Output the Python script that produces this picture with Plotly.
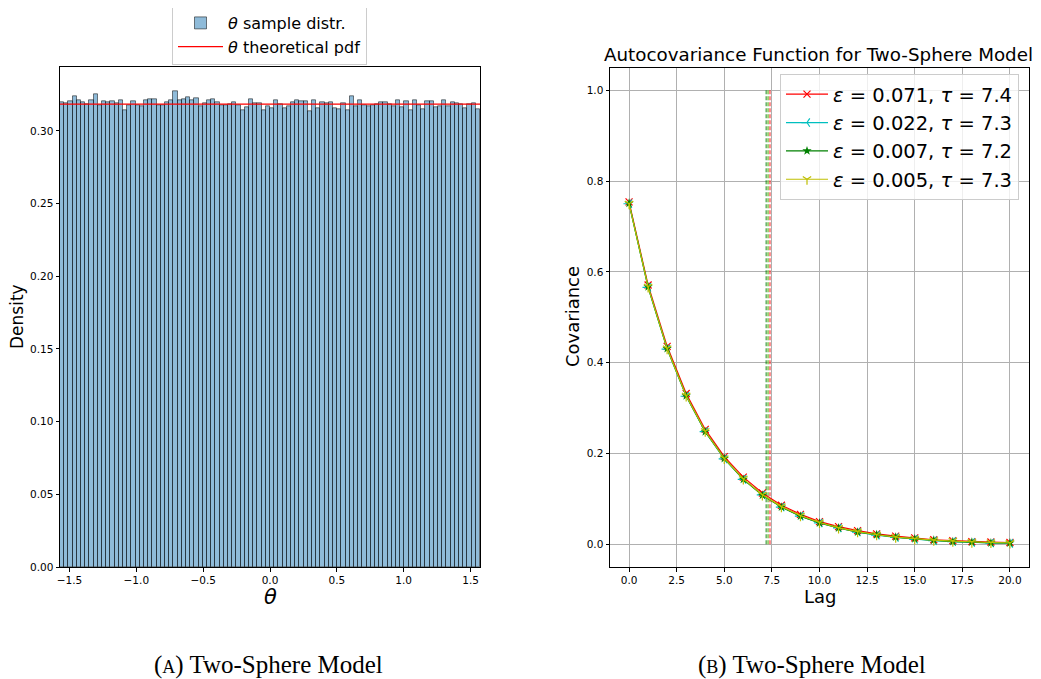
import numpy as np
import plotly.graph_objects as go

# ---------------- data ----------------
# left panel: histogram of theta (100 bins on [-pi/2, pi/2]), density values
theta_min = -np.pi / 2
theta_max = np.pi / 2
n_bins = 100
hist_density = [
    0.3196, 0.3189, 0.3200, 0.3235, 0.3212, 0.3194, 0.3184, 0.3212, 0.3251, 0.3173,
    0.3200, 0.3194, 0.3203, 0.3191, 0.3212, 0.3139, 0.3173, 0.3203, 0.3178, 0.3166,
    0.3210, 0.3216, 0.3219, 0.3178, 0.3178, 0.3194, 0.3207, 0.3271, 0.3210, 0.3216,
    0.3228, 0.3210, 0.3223, 0.3166, 0.3189, 0.3207, 0.3219, 0.3196, 0.3178, 0.3178,
    0.3180, 0.3198, 0.3175, 0.3143, 0.3162, 0.3216, 0.3189, 0.3187, 0.3139, 0.3171,
    0.3152, 0.3212, 0.3182, 0.3157, 0.3171, 0.3194, 0.3207, 0.3205, 0.3203, 0.3132,
    0.3212, 0.3155, 0.3194, 0.3189, 0.3194, 0.3152, 0.3148, 0.3187, 0.3143, 0.3239,
    0.3171, 0.3210, 0.3175, 0.3171, 0.3178, 0.3180, 0.3194, 0.3194, 0.3184, 0.3168,
    0.3212, 0.3159, 0.3203, 0.3143, 0.3212, 0.3178, 0.3148, 0.3200, 0.3205, 0.3164,
    0.3168, 0.3207, 0.3166, 0.3196, 0.3189, 0.3180, 0.3155, 0.3182, 0.3189, 0.3150,
]
pdf_x = [theta_min, theta_max]
pdf_y = [1 / np.pi, 1 / np.pi]

left_xtick_vals = [-1.5, -1.0, -0.5, 0.0, 0.5, 1.0, 1.5]
left_xtick_text = ["\u22121.5", "\u22121.0", "\u22120.5", "0.0", "0.5", "1.0", "1.5"]
left_ytick_vals = [0.00, 0.05, 0.10, 0.15, 0.20, 0.25, 0.30]

# right panel: autocovariance
lags = list(range(21))
acf_eps071 = [0.754, 0.571, 0.436, 0.332, 0.253, 0.193, 0.148, 0.113, 0.086, 0.066, 0.050,
              0.039, 0.030, 0.023, 0.018, 0.014, 0.010, 0.008, 0.006, 0.005, 0.004]
acf_eps022 = [0.750, 0.566, 0.430, 0.326, 0.248, 0.188, 0.143, 0.109, 0.082, 0.062, 0.047,
              0.036, 0.027, 0.020, 0.015, 0.011, 0.008, 0.006, 0.004, 0.003, 0.002]
acf_eps007 = [0.751, 0.567, 0.431, 0.327, 0.248, 0.189, 0.143, 0.108, 0.082, 0.062, 0.047,
              0.036, 0.027, 0.021, 0.016, 0.012, 0.009, 0.006, 0.005, 0.003, 0.003]
acf_eps005 = [0.750, 0.567, 0.431, 0.327, 0.249, 0.189, 0.144, 0.109, 0.083, 0.063, 0.048,
              0.036, 0.028, 0.021, 0.016, 0.012, 0.009, 0.007, 0.005, 0.004, 0.003]
eps_labels = ["0.071", "0.022", "0.007", "0.005"]
tau_values = [7.4, 7.3, 7.2, 7.3]
right_xtick_vals = [0.0, 2.5, 5.0, 7.5, 10.0, 12.5, 15.0, 17.5, 20.0]
right_ytick_vals = [0.0, 0.2, 0.4, 0.6, 0.8, 1.0]

# ---------------- figure ----------------
# page body has an 8px default margin: shift everything so it lands at the page pixels
OFF = 8
FW, FH = 1041 - OFF, 679 - OFF
FONT = "DejaVu Sans"
fig = go.Figure()

edges = np.linspace(theta_min, theta_max, n_bins + 1)
centers = (edges[:-1] + edges[1:]) / 2
bw = edges[1] - edges[0]

fig.add_trace(go.Bar(
    x=centers, y=hist_density, width=bw,
    marker=dict(color="rgba(31,119,180,0.5)", line=dict(color="rgba(0,0,0,0.5)", width=1)),
    name="<i>θ</i> sample distr.", xaxis="x", yaxis="y", legend="legend",
))
fig.add_trace(go.Scatter(
    x=pdf_x, y=pdf_y, mode="lines", line=dict(color="red", width=1.3),
    name="<i>θ</i> theoretical pdf", xaxis="x", yaxis="y", legend="legend",
))

series = [acf_eps071, acf_eps022, acf_eps007, acf_eps005]
colors = ["#ff0000", "#00bfbf", "#008000", "#bfbf00"]
vcolors = ["rgba(255,0,0,0.7)", "rgba(0,191,191,0.7)", "rgba(0,128,0,0.7)", "rgba(191,191,0,0.7)"]
symbols = ["x-thin", "y-left", "star", "y-down"]

for i in range(4):
    fig.add_trace(go.Scatter(
        x=[tau_values[i], tau_values[i]], y=[0, 1], mode="lines",
        line=dict(color=vcolors[i], width=1.3, dash="4px,2px"),
        showlegend=False, xaxis="x2", yaxis="y2", hoverinfo="skip",
    ))

for i in range(4):
    sym = symbols[i]
    if sym == "star":
        mk = dict(symbol=sym, size=7, color=colors[i], line=dict(width=0))
    else:
        mk = dict(symbol=sym, size=7, color=colors[i], line=dict(width=1.2, color=colors[i]))
    fig.add_trace(go.Scatter(
        x=lags, y=series[i], mode="lines+markers",
        line=dict(color=colors[i], width=1.2), marker=mk,
        name=f"<i>ε</i> = {eps_labels[i]}, <i>τ</i> = {tau_values[i]}",
        xaxis="x2", yaxis="y2", legend="legend2",
    ))

def px_x(p):
    return (p - OFF) / FW

def px_y(p):
    return 1 - (p - OFF) / FH

axis_common = dict(
    showline=True, linecolor="black", linewidth=1, mirror=True,
    ticks="outside", ticklen=3.5, tickwidth=1, tickcolor="black",
    tickfont=dict(family=FONT, size=10.5, color="black"), zeroline=False,
    automargin=False,
)

fig.update_layout(
    width=FW, height=FH,
    margin=dict(l=0, r=0, t=0, b=0, pad=0, autoexpand=False),
    paper_bgcolor="white", plot_bgcolor="white",
    bargap=0, showlegend=True,
    font=dict(family=FONT, color="black"),
    xaxis=dict(domain=[px_x(60), px_x(480)], range=[theta_min, theta_max],
               tickvals=left_xtick_vals, ticktext=left_xtick_text, anchor="y",
               showgrid=False, **axis_common),
    yaxis=dict(domain=[px_y(567), px_y(67.3)], range=[0, 0.3437],
               tickvals=left_ytick_vals, tickformat=".2f", anchor="x",
               showgrid=False, **axis_common),
    xaxis2=dict(domain=[px_x(610), px_x(1029)], range=[-1, 21],
                tickvals=right_xtick_vals, tickformat=".1f", anchor="y2",
                showgrid=True, gridcolor="#b0b0b0", gridwidth=0.8, **axis_common),
    yaxis2=dict(domain=[px_y(567), px_y(67.5)], range=[-0.05, 1.05],
                tickvals=right_ytick_vals, tickformat=".1f", anchor="x2",
                showgrid=True, gridcolor="#b0b0b0", gridwidth=0.8, **axis_common),
    legend=dict(x=px_x(172), y=px_y(5), xanchor="left", yanchor="top",
                bgcolor="rgba(255,255,255,0.8)", bordercolor="#cccccc", borderwidth=1,
                font=dict(family=FONT, size=16), tracegroupgap=0, itemwidth=45),
    legend2=dict(x=px_x(1019), y=px_y(74), xanchor="right", yanchor="top",
                 bgcolor="rgba(255,255,255,0.8)", bordercolor="#cccccc", borderwidth=1,
                 font=dict(family=FONT, size=19.5), tracegroupgap=0, itemwidth=42),
)

ann = [
    dict(text="Density", x=px_x(17), y=px_y(317), textangle=-90, font=dict(size=17)),
    dict(text="<i>θ</i>", x=px_x(270), y=px_y(597), font=dict(size=21)),
    dict(text="Covariance", x=px_x(573), y=px_y(317), textangle=-90, font=dict(size=18)),
    dict(text="Lag", x=px_x(820), y=px_y(596), font=dict(size=18)),
    dict(text="Autocovariance Function for Two-Sphere Model", x=px_x(818), y=px_y(55),
         font=dict(size=18.3)),
    dict(text="(<span style='font-size:18px'>A</span>) Two-Sphere Model", x=px_x(268), y=px_y(665),
         font=dict(family="Liberation Serif", size=25)),
    dict(text="(<span style='font-size:18px'>B</span>) Two-Sphere Model", x=px_x(812), y=px_y(665),
         font=dict(family="Liberation Serif", size=25)),
]
for a in ann:
    f = dict(family=FONT, color="black")
    f.update(a.pop("font"))
    fig.add_annotation(xref="paper", yref="paper", showarrow=False,
                       xanchor="center", yanchor="middle", font=f, **a)

fig.write_html("out.html")
